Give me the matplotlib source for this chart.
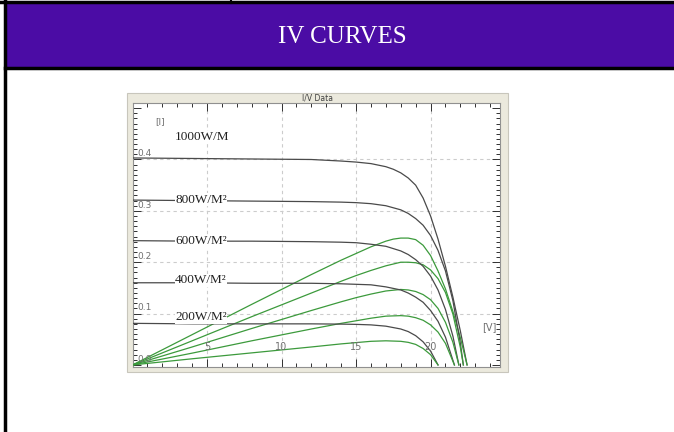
import matplotlib
matplotlib.use('Agg')
import matplotlib.pyplot as plt
from matplotlib.patches import Rectangle
from matplotlib.lines import Line2D
from matplotlib.ticker import MultipleLocator
from matplotlib.transforms import blended_transform_factory

# IV curve readings, one set per irradiance: voltage [V], current [I], power trace (green)
volts_1000 = [0, 4, 8, 12, 14, 15, 16, 17, 17.5, 18, 18.5, 19, 19.5, 20, 20.5, 21, 21.5, 22, 22.45]
amps_1000 = [0.403, 0.402, 0.401, 0.400, 0.397, 0.395, 0.392, 0.386, 0.381, 0.374, 0.364, 0.350, 0.325, 0.290, 0.245, 0.192, 0.132, 0.066, 0.0]
power_1000 = [0, 0.059, 0.118, 0.176, 0.204, 0.217, 0.230, 0.241, 0.245, 0.247, 0.247, 0.244, 0.233, 0.213, 0.183, 0.148, 0.104, 0.053, 0.0]

volts_800 = [0, 4, 8, 12, 14, 15, 16, 17, 18, 18.5, 19, 19.5, 20, 20.5, 21, 21.5, 22, 22.2]
amps_800 = [0.321, 0.320, 0.319, 0.318, 0.317, 0.316, 0.314, 0.310, 0.302, 0.295, 0.285, 0.272, 0.252, 0.223, 0.183, 0.125, 0.042, 0.0]
power_800 = [0, 0.047, 0.094, 0.140, 0.163, 0.174, 0.184, 0.193, 0.200, 0.200, 0.199, 0.195, 0.185, 0.168, 0.141, 0.099, 0.034, 0.0]

volts_600 = [0, 4, 8, 12, 14, 15, 16, 17, 18, 18.5, 19, 19.5, 20, 20.5, 21, 21.5, 21.9]
amps_600 = [0.242, 0.241, 0.241, 0.240, 0.239, 0.238, 0.235, 0.231, 0.222, 0.215, 0.205, 0.192, 0.173, 0.146, 0.108, 0.056, 0.0]
power_600 = [0, 0.035, 0.071, 0.106, 0.123, 0.131, 0.138, 0.144, 0.147, 0.146, 0.143, 0.137, 0.127, 0.110, 0.083, 0.044, 0.0]

volts_400 = [0, 4, 8, 12, 14, 15, 16, 17, 18, 18.5, 19, 19.5, 20, 20.5, 21, 21.6]
amps_400 = [0.160, 0.160, 0.159, 0.159, 0.158, 0.157, 0.156, 0.152, 0.146, 0.140, 0.132, 0.122, 0.106, 0.085, 0.054, 0.0]
power_400 = [0, 0.023, 0.047, 0.070, 0.081, 0.086, 0.091, 0.095, 0.096, 0.095, 0.092, 0.087, 0.078, 0.064, 0.042, 0.0]

volts_200 = [0, 4, 8, 12, 14, 15, 16, 17, 18, 18.5, 19, 19.5, 20, 20.5]
amps_200 = [0.081, 0.080, 0.080, 0.080, 0.0795, 0.079, 0.078, 0.0755, 0.070, 0.065, 0.057, 0.045, 0.027, 0.0]
power_200 = [0, 0.012, 0.0235, 0.035, 0.041, 0.0435, 0.046, 0.047, 0.046, 0.044, 0.040, 0.032, 0.020, 0.0]

irr_labels = ['1000W/M', '800W/M²', '600W/M²', '400W/M²', '200W/M²']
x_ticks = [5, 10, 15, 20]
y_ticks = [0.1, 0.2, 0.3, 0.4]

W, H = 674, 432
fig = plt.figure(figsize=(W / 100, H / 100), dpi=100)
fig.patch.set_facecolor('white')


def px_rect(x, y, w, h):
    # pixel box (top-left origin) -> figure fraction rect
    return [x / W, 1 - (y + h) / H, w / W, h / H]


def px_line(x0, y0, x1, y1, lw=2, color='black'):
    fig.add_artist(Line2D([x0 / W, x1 / W], [1 - y0 / H, 1 - y1 / H],
                          transform=fig.transFigure, color=color, lw=lw))


# page decoration: purple header band and black rules
fig.add_artist(Rectangle((5 / W, 1 - 68 / H), (W - 5) / W, 64 / H,
                         transform=fig.transFigure, facecolor='#4b0ca5', edgecolor='none'))
px_line(0, 2, W, 2, lw=2.5)
px_line(231, 0, 231, 3, lw=1.5)
px_line(5, 0, 5, H, lw=2.5)
px_line(5, 68, W, 68, lw=2.5)
fig.text(342 / W, 1 - 37 / H, 'IV CURVES', color='white', fontsize=18,
         family='Liberation Serif', ha='center', va='center')

# window frame around the plot
fig.add_artist(Rectangle((127 / W, 1 - 372 / H), 381 / W, 279 / H,
                         transform=fig.transFigure, facecolor='#ebe9dd', edgecolor='#c8c6bc',
                         lw=0.8, zorder=0))
fig.text(318 / W, 1 - 98 / H, 'I/V Data', color='#404040', fontsize=5.5,
         family='DejaVu Sans', ha='center', va='center')

ax = fig.add_axes(px_rect(133, 103, 367, 264))
ax.set_zorder(5)
ax.set_facecolor('white')
ax.set_xlim(0.03, 24.66)
ax.set_ylim(-0.004, 0.51)

curves = [(volts_1000, amps_1000, power_1000), (volts_800, amps_800, power_800),
          (volts_600, amps_600, power_600), (volts_400, amps_400, power_400),
          (volts_200, amps_200, power_200)]
for v, i, p in curves:
    ax.plot(v, i, color='#4a4a4a', lw=0.9, zorder=3)
    ax.plot(v, p, color='#3c9a3c', lw=0.9, zorder=3)

# grid
for xt in x_ticks:
    ax.axvline(xt, color='#cccccc', lw=0.8, ls=(0, (3, 3)), zorder=1)
for yt in y_ticks:
    ax.axhline(yt, color='#cccccc', lw=0.8, ls=(0, (3, 3)), zorder=1)

ax.xaxis.set_major_locator(MultipleLocator(5))
ax.xaxis.set_minor_locator(MultipleLocator(1))
ax.yaxis.set_major_locator(MultipleLocator(0.1))
ax.yaxis.set_minor_locator(MultipleLocator(0.01))
ax.tick_params(which='both', direction='in', top=True, right=True,
               labelbottom=False, labelleft=False, color='#303030', width=0.7)
ax.tick_params(which='major', length=6)
ax.tick_params(which='minor', length=3)
for s in ax.spines.values():
    s.set_color('#909090')
    s.set_linewidth(0.8)

# tick labels drawn inside the plot
bx = blended_transform_factory(ax.transData, ax.transAxes)
for xt in x_ticks:
    ax.text(xt, 0.075, str(xt), transform=bx, fontsize=7, color='#707070',
            ha='center', va='center')
by = blended_transform_factory(ax.transAxes, ax.transData)
for yt in [0.0] + y_ticks:
    ax.text(0.012, yt + 0.011, '%.1f' % yt, transform=by, fontsize=6.5,
            color='#707070', ha='left', va='center')
ax.text(0.075, 0.93, '[I]', transform=ax.transAxes, fontsize=6.5, color='#707070',
        ha='center', va='center')
ax.text(0.97, 0.152, '[V]', transform=ax.transAxes, fontsize=7, color='#707070',
        ha='center', va='center')

# irradiance labels
label_y = [0.443, 0.322, 0.241, 0.165, 0.093]
for lab, ly in zip(irr_labels, label_y):
    ax.text(2.85, ly, lab, fontsize=9.5, family='Liberation Serif', color='#202020',
            ha='left', va='center', zorder=4,
            bbox=dict(facecolor='white', edgecolor='none', pad=0.3))

fig.savefig('out.png', dpi=100)
